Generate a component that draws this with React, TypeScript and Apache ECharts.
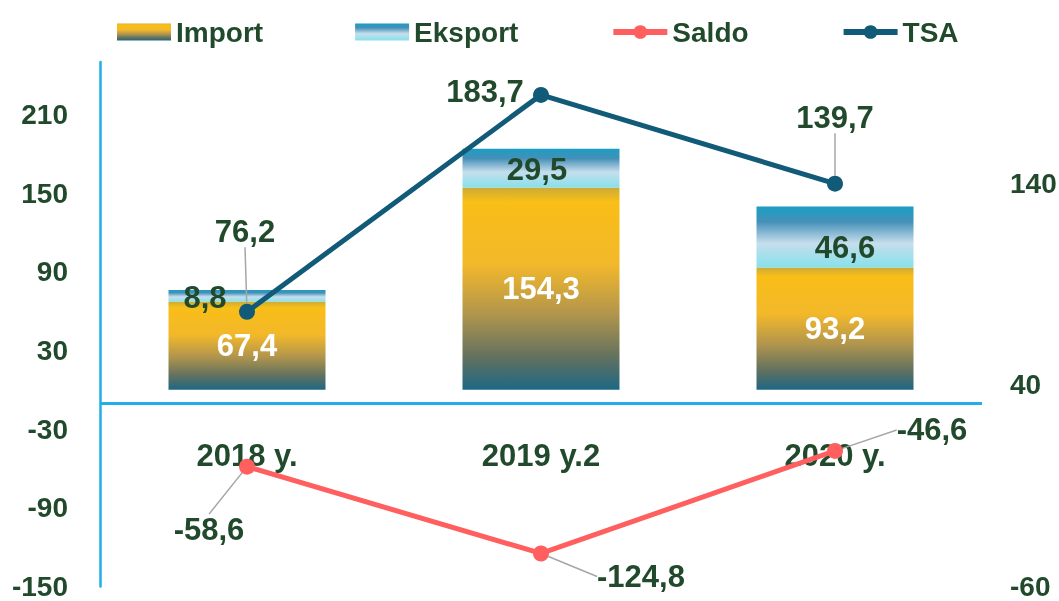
import React, { useEffect, useRef } from "react";
import * as echarts from "echarts";

const categories = ["2018 y.", "2019 y.2", "2020 y."];
const importValues = [67.4, 154.3, 93.2];
const eksportValues = [8.8, 29.5, 46.6];
const saldoValues = [-58.6, -124.8, -46.6];
const tsaValues = [76.2, 183.7, 139.7];

const leftTicks = { min: -150, max: 250, interval: 60 };
const rightTicks = { min: -60, max: 200, interval: 100 };

// label placement (pixel shifts), kept apart from data
const eksportLabelShift = [[-42, 2], [-4, 1], [10, 10]];
const tsaLabelShift = [[-2, -80], [-56, -3], [0, -66]];
const tsaLeaderShown = [true, false, true];
const saldoLabelShift = [[-38, 63], [100, 23], [97, -21]];
const axisCrossValue = -10.3;

const FONT = '"Liberation Sans", Arial, sans-serif';
const TXT = "#214a2c";
const fmt = (p: any) => Number(p.value).toFixed(1).replace(".", ",");

export default function App() {
  const ref = useRef<HTMLDivElement>(null);
  useEffect(() => {
    if (!ref.current) return;
    const chart = echarts.init(ref.current, null, { renderer: "svg" });
    const importGrad = new echarts.graphic.LinearGradient(0, 0, 0, 1, [
      { offset: 0, color: "#c9ab3a" },
      { offset: 0.07, color: "#f9be17" },
      { offset: 0.38, color: "#f2b82a" },
      { offset: 0.62, color: "#b3964c" },
      { offset: 0.84, color: "#62715f" },
      { offset: 1, color: "#1d6784" },
    ]);
    const eksportGrad = new echarts.graphic.LinearGradient(0, 0, 0, 1, [
      { offset: 0, color: "#1a9ec4" },
      { offset: 0.25, color: "#4590b8" },
      { offset: 0.6, color: "#c6deec" },
      { offset: 1, color: "#86e1ec" },
    ]);
    const labelBase = { fontFamily: FONT, fontWeight: "bold" as const, fontSize: 31, color: TXT };
    const option: any = {
      animation: false,
      textStyle: { fontFamily: FONT },
      legend: {
        left: 112,
        top: 13,
        itemWidth: 54,
        itemHeight: 17,
        itemGap: 92,
        textStyle: { fontFamily: FONT, fontWeight: "bold", fontSize: 28, color: TXT },
        data: [
          { name: "Import", icon: "rect" },
          { name: "Eksport", icon: "rect" },
          { name: "Saldo", lineStyle: { width: 6 } },
          { name: "TSA", lineStyle: { width: 6 } },
        ],
      },
      grid: { left: 100, right: 77, top: 62, bottom: 14.5, containLabel: false, outerBoundsMode: "none" },
      xAxis: {
        type: "category",
        data: categories,
        axisLine: { show: false, onZero: false },
        axisTick: { show: false },
        axisLabel: { margin: -147, ...labelBase },
      },
      yAxis: [
        {
          type: "value",
          ...leftTicks,
          splitLine: { show: false },
          axisTick: { show: false },
          axisLine: { show: true, onZero: false, lineStyle: { color: "#22aee6", width: 2.5 } },
          axisLabel: { showMaxLabel: false, margin: 32, fontFamily: FONT, fontWeight: "bold", fontSize: 28, color: TXT },
        },
        {
          type: "value",
          position: "right",
          ...rightTicks,
          splitLine: { show: false },
          axisTick: { show: false },
          axisLine: { show: false, onZero: false },
          axisLabel: { showMaxLabel: false, margin: 28, fontFamily: FONT, fontWeight: "bold", fontSize: 28, color: TXT },
        },
      ],
      series: [
        {
          name: "Import",
          type: "bar",
          stack: "trade",
          barWidth: 157,
          itemStyle: { color: importGrad },
          label: { show: true, position: "inside", formatter: fmt, ...labelBase, color: "#ffffff" },
          data: importValues,
          markLine: {
            silent: true,
            symbol: ["none", "none"],
            label: { show: false },
            lineStyle: { color: "#22aee6", width: 3, type: "solid" },
            data: [{ yAxis: axisCrossValue }],
          },
        },
        {
          name: "Eksport",
          type: "bar",
          stack: "trade",
          barWidth: 157,
          itemStyle: { color: eksportGrad },
          label: { show: true, position: "inside", formatter: fmt, ...labelBase },
          data: eksportValues.map((v, i) => ({ value: v, label: { offset: eksportLabelShift[i] } })),
        },
        {
          name: "Saldo",
          type: "line",
          yAxisIndex: 0,
          z: 5,
          symbol: "circle",
          symbolSize: 16,
          color: "#ff5f5f",
          lineStyle: { width: 5, color: "#ff5f5f" },
          itemStyle: { color: "#ff5f5f" },
          label: { show: true, position: "inside", formatter: fmt, ...labelBase },
          labelLine: { show: true, lineStyle: { color: "#a6a6a6", width: 1.5 } },
          labelLayout: (p: any) => ({ dx: saldoLabelShift[p.dataIndex][0], dy: saldoLabelShift[p.dataIndex][1] }),
          data: saldoValues,
        },
        {
          name: "TSA",
          type: "line",
          yAxisIndex: 1,
          z: 6,
          symbol: "circle",
          symbolSize: 16,
          color: "#115a78",
          lineStyle: { width: 5, color: "#115a78" },
          itemStyle: { color: "#115a78" },
          label: { show: true, position: "inside", formatter: fmt, ...labelBase },
          labelLine: { show: true, lineStyle: { color: "#a6a6a6", width: 1.5 } },
          labelLayout: (p: any) => ({ dx: tsaLabelShift[p.dataIndex][0], dy: tsaLabelShift[p.dataIndex][1] }),
          data: tsaValues.map((v, i) => ({ value: v, labelLine: { show: tsaLeaderShown[i] } })),
        },
      ],
    };
    chart.setOption(option);
    return () => chart.dispose();
  }, []);
  return <div ref={ref} style={{ position: "fixed", left: 0, top: 0, width: 1059, height: 601 }} />;
}
